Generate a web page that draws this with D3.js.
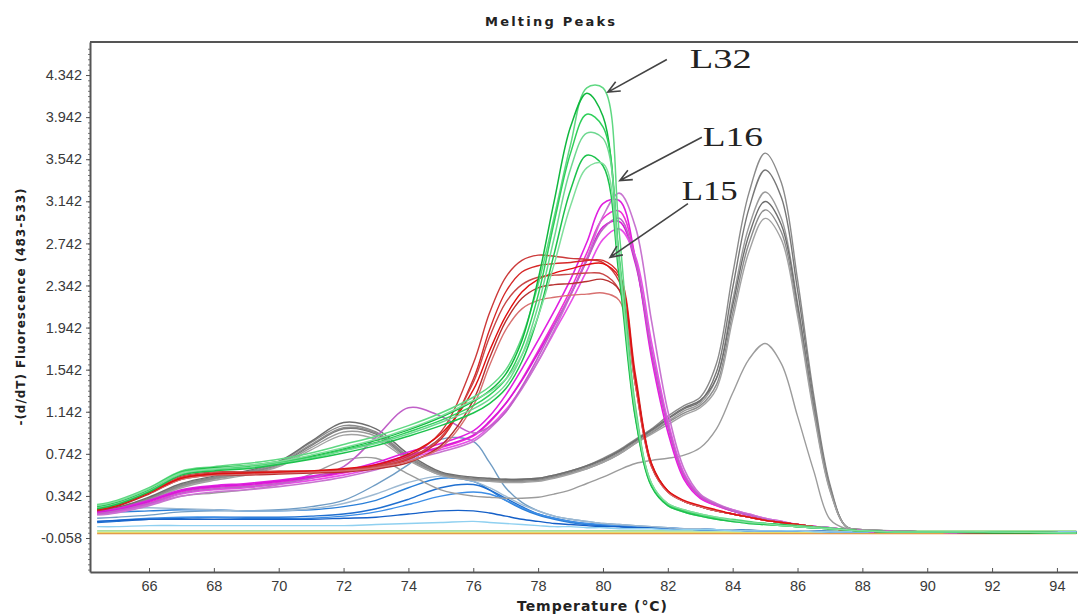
<!DOCTYPE html>
<html>
<head>
<meta charset="utf-8">
<script src="https://cdn.jsdelivr.net/npm/d3@7"></script>
<style>
  body { margin: 0; background: #fff; }
  svg { display: block; }
</style>
</head>
<body>
<div id="container"></div>
<script>
// temperature grid shared by all curves (°C)
const temps = [64.4, 65, 66, 67, 68, 69, 70, 71, 72, 73, 74, 75, 76, 76.5, 77, 77.5, 78, 78.5, 79, 79.5,
    80, 80.5, 81, 81.5, 82, 82.5, 83, 83.5, 84, 84.5, 85, 85.5, 86, 86.5, 87, 87.5, 88, 89, 90, 92, 94.6]

// L32 samples (green)
const greenCurves = [
    [0.26, 0.30, 0.42, 0.58, 0.62, 0.65, 0.69, 0.75, 0.83, 0.91,
     1.01, 1.13, 1.28, 1.38, 1.54, 1.85, 2.35, 3.00, 3.68, 4.22,
     4.22, 2.85, 1.20, 0.46, 0.27, 0.21, 0.17, 0.14, 0.12, 0.10,
     0.08, 0.07, 0.06, 0.05, 0.04, 0.02, 0.01, 0.00, 0.00, 0.00, -0.01],
    [0.24, 0.28, 0.40, 0.57, 0.61, 0.63, 0.67, 0.72, 0.79, 0.87,
     0.97, 1.09, 1.24, 1.34, 1.50, 1.82, 2.40, 3.15, 3.85, 4.17,
     3.95, 2.58, 1.10, 0.44, 0.26, 0.20, 0.16, 0.13, 0.11, 0.09,
     0.08, 0.07, 0.05, 0.04, 0.03, 0.02, 0.01, 0.00, 0.00, -0.01, -0.01],
    [0.25, 0.29, 0.41, 0.57, 0.60, 0.62, 0.66, 0.71, 0.78, 0.85,
     0.95, 1.06, 1.20, 1.30, 1.45, 1.75, 2.25, 2.95, 3.60, 3.97,
     3.85, 2.62, 1.15, 0.45, 0.26, 0.20, 0.16, 0.13, 0.11, 0.09,
     0.08, 0.06, 0.05, 0.04, 0.03, 0.02, 0.01, 0.00, 0.00, 0.00, -0.01],
    [0.23, 0.27, 0.39, 0.55, 0.59, 0.61, 0.65, 0.70, 0.77, 0.84,
     0.93, 1.04, 1.17, 1.26, 1.40, 1.68, 2.15, 2.80, 3.45, 3.79,
     3.74, 2.58, 1.12, 0.44, 0.25, 0.19, 0.15, 0.12, 0.10, 0.08,
     0.07, 0.06, 0.05, 0.04, 0.03, 0.02, 0.01, 0.00, 0.00, 0.00, -0.01],
    [0.22, 0.26, 0.38, 0.54, 0.58, 0.60, 0.64, 0.69, 0.75, 0.82,
     0.91, 1.01, 1.13, 1.22, 1.36, 1.62, 2.05, 2.65, 3.25, 3.58,
     3.48, 2.42, 1.08, 0.43, 0.25, 0.19, 0.15, 0.12, 0.10, 0.08,
     0.07, 0.06, 0.05, 0.04, 0.03, 0.02, 0.01, 0.00, 0.00, 0.00, -0.01],
    [0.25, 0.29, 0.41, 0.56, 0.60, 0.63, 0.67, 0.73, 0.80, 0.88,
     0.98, 1.10, 1.25, 1.33, 1.45, 1.68, 2.05, 2.55, 3.10, 3.46,
     3.50, 2.52, 1.15, 0.46, 0.27, 0.21, 0.17, 0.14, 0.11, 0.09,
     0.08, 0.06, 0.05, 0.04, 0.03, 0.02, 0.01, 0.00, 0.00, 0.00, -0.01]
]

// L16 samples (magenta)
const magentaCurves = [
    [0.20, 0.22, 0.30, 0.40, 0.44, 0.46, 0.49, 0.53, 0.58, 0.66,
     0.76, 0.84, 0.96, 1.10, 1.30, 1.55, 1.82, 2.10, 2.40, 2.75,
     3.12, 3.15, 2.60, 1.65, 0.95, 0.50, 0.32, 0.25, 0.20, 0.16,
     0.12, 0.09, 0.07, 0.05, 0.04, 0.02, 0.01, 0.00, 0.00, -0.01, -0.01],
    [0.18, 0.20, 0.28, 0.38, 0.42, 0.44, 0.47, 0.51, 0.56, 0.63,
     0.72, 0.80, 0.91, 1.04, 1.22, 1.45, 1.72, 2.00, 2.30, 2.65,
     2.98, 3.05, 2.60, 1.70, 1.00, 0.52, 0.33, 0.25, 0.20, 0.16,
     0.12, 0.09, 0.07, 0.05, 0.04, 0.02, 0.01, 0.00, 0.00, -0.01, -0.01],
    [0.19, 0.21, 0.29, 0.39, 0.43, 0.45, 0.48, 0.52, 0.57, 0.64,
     0.73, 0.81, 0.92, 1.05, 1.22, 1.44, 1.70, 1.97, 2.25, 2.58,
     2.90, 2.95, 2.55, 1.72, 1.02, 0.54, 0.34, 0.26, 0.20, 0.16,
     0.12, 0.09, 0.07, 0.05, 0.04, 0.02, 0.01, 0.00, 0.00, -0.01, -0.01],
    [0.17, 0.19, 0.26, 0.36, 0.40, 0.42, 0.45, 0.49, 0.54, 0.61,
     0.70, 0.78, 0.88, 1.00, 1.16, 1.37, 1.62, 1.90, 2.18, 2.48,
     2.78, 2.88, 2.62, 1.80, 1.06, 0.56, 0.35, 0.26, 0.21, 0.17,
     0.13, 0.10, 0.07, 0.05, 0.04, 0.02, 0.01, 0.00, 0.00, -0.01, -0.01],
    [0.16, 0.18, 0.25, 0.34, 0.38, 0.40, 0.43, 0.47, 0.52, 0.59,
     0.68, 0.76, 0.86, 0.98, 1.14, 1.36, 1.62, 1.92, 2.25, 2.60,
     3.00, 3.22, 2.90, 2.00, 1.15, 0.60, 0.36, 0.27, 0.21, 0.17,
     0.13, 0.10, 0.07, 0.05, 0.04, 0.02, 0.01, 0.00, 0.00, -0.01, -0.01],
    [0.17, 0.20, 0.27, 0.37, 0.41, 0.43, 0.46, 0.51, 0.62, 0.90,
     1.18, 1.10, 0.94, 1.00, 1.14, 1.38, 1.66, 1.96, 2.26, 2.58,
     2.88, 2.98, 2.58, 1.72, 1.02, 0.54, 0.34, 0.26, 0.20, 0.16,
     0.12, 0.09, 0.07, 0.05, 0.04, 0.02, 0.01, 0.00, 0.00, -0.01, -0.01]
]

// L15 samples (red)
const redCurves = [
    [0.22, 0.26, 0.38, 0.52, 0.56, 0.56, 0.57, 0.58, 0.59, 0.63,
     0.72, 0.95, 1.60, 2.08, 2.42, 2.58, 2.63, 2.62, 2.60, 2.59,
     2.56, 2.38, 1.40, 0.62, 0.38, 0.29, 0.24, 0.20, 0.17, 0.14,
     0.11, 0.09, 0.07, 0.05, 0.03, 0.02, 0.01, 0.00, 0.00, -0.01, -0.01],
    [0.21, 0.25, 0.37, 0.51, 0.55, 0.55, 0.56, 0.57, 0.58, 0.61,
     0.69, 0.88, 1.45, 1.92, 2.28, 2.47, 2.53, 2.55, 2.56, 2.58,
     2.58, 2.45, 1.50, 0.65, 0.39, 0.29, 0.24, 0.20, 0.17, 0.14,
     0.11, 0.09, 0.07, 0.05, 0.03, 0.02, 0.01, 0.00, 0.00, -0.01, -0.01],
    [0.23, 0.27, 0.39, 0.53, 0.57, 0.57, 0.58, 0.58, 0.59, 0.62,
     0.70, 0.90, 1.42, 1.85, 2.18, 2.35, 2.42, 2.44, 2.45, 2.46,
     2.45, 2.30, 1.40, 0.62, 0.38, 0.29, 0.24, 0.20, 0.17, 0.14,
     0.11, 0.09, 0.07, 0.05, 0.03, 0.02, 0.01, 0.00, 0.00, -0.01, -0.01],
    [0.20, 0.24, 0.36, 0.50, 0.54, 0.54, 0.55, 0.56, 0.57, 0.60,
     0.66, 0.82, 1.25, 1.65, 2.00, 2.22, 2.32, 2.35, 2.36, 2.38,
     2.40, 2.30, 1.45, 0.64, 0.39, 0.29, 0.24, 0.20, 0.17, 0.14,
     0.11, 0.09, 0.07, 0.05, 0.03, 0.02, 0.01, 0.00, 0.00, -0.01, -0.01],
    [0.22, 0.26, 0.37, 0.50, 0.54, 0.55, 0.56, 0.57, 0.58, 0.61,
     0.67, 0.80, 1.20, 1.58, 1.92, 2.12, 2.20, 2.23, 2.25, 2.26,
     2.27, 2.20, 1.40, 0.63, 0.38, 0.29, 0.24, 0.20, 0.17, 0.14,
     0.11, 0.09, 0.07, 0.05, 0.03, 0.02, 0.01, 0.00, 0.00, -0.01, -0.01],
    [0.21, 0.25, 0.37, 0.51, 0.55, 0.56, 0.57, 0.58, 0.60, 0.64,
     0.74, 0.93, 1.35, 1.72, 2.05, 2.28, 2.40, 2.46, 2.50, 2.54,
     2.55, 2.42, 1.45, 0.64, 0.39, 0.30, 0.25, 0.21, 0.17, 0.14,
     0.11, 0.09, 0.07, 0.05, 0.03, 0.02, 0.01, 0.00, 0.00, -0.01, -0.01]
]

// gray samples (85 °C peak)
const grayCurves = [
    [0.21, 0.23, 0.32, 0.45, 0.52, 0.57, 0.66, 0.85, 1.01, 0.95,
     0.72, 0.56, 0.51, 0.50, 0.50, 0.50, 0.51, 0.54, 0.58, 0.63,
     0.70, 0.78, 0.88, 0.98, 1.10, 1.20, 1.28, 1.60, 2.45, 3.22,
     3.60, 3.32, 2.40, 1.30, 0.45, 0.05, 0.02, 0.01, 0.00, 0.00, -0.01],
    [0.20, 0.22, 0.31, 0.44, 0.51, 0.56, 0.64, 0.82, 0.98, 0.93,
     0.70, 0.55, 0.50, 0.49, 0.49, 0.49, 0.50, 0.53, 0.57, 0.62,
     0.68, 0.76, 0.86, 0.96, 1.07, 1.17, 1.24, 1.52, 2.32, 3.07,
     3.44, 3.18, 2.30, 1.25, 0.43, 0.05, 0.02, 0.01, 0.00, 0.00, -0.01],
    [0.19, 0.21, 0.30, 0.43, 0.50, 0.55, 0.63, 0.80, 0.95, 0.91,
     0.69, 0.54, 0.50, 0.49, 0.48, 0.48, 0.49, 0.52, 0.56, 0.61,
     0.67, 0.75, 0.85, 0.95, 1.05, 1.15, 1.22, 1.46, 2.20, 2.90,
     3.23, 2.98, 2.18, 1.20, 0.42, 0.05, 0.02, 0.01, 0.00, 0.00, -0.01],
    [0.21, 0.23, 0.33, 0.46, 0.53, 0.58, 0.67, 0.86, 1.04, 0.98,
     0.74, 0.57, 0.52, 0.51, 0.50, 0.50, 0.51, 0.54, 0.58, 0.63,
     0.69, 0.77, 0.87, 0.97, 1.08, 1.18, 1.25, 1.46, 2.15, 2.82,
     3.14, 2.92, 2.15, 1.18, 0.41, 0.05, 0.02, 0.01, 0.00, 0.00, -0.01],
    [0.20, 0.22, 0.31, 0.44, 0.51, 0.56, 0.65, 0.83, 0.99, 0.94,
     0.71, 0.55, 0.50, 0.49, 0.48, 0.48, 0.49, 0.52, 0.56, 0.60,
     0.66, 0.74, 0.84, 0.94, 1.04, 1.13, 1.20, 1.40, 2.08, 2.74,
     3.06, 2.85, 2.10, 1.16, 0.40, 0.05, 0.02, 0.01, 0.00, 0.00, -0.01],
    [0.19, 0.21, 0.30, 0.42, 0.49, 0.54, 0.62, 0.78, 0.92, 0.88,
     0.68, 0.54, 0.49, 0.48, 0.47, 0.47, 0.48, 0.51, 0.55, 0.60,
     0.66, 0.74, 0.84, 0.93, 1.02, 1.11, 1.18, 1.36, 2.02, 2.66,
     2.98, 2.78, 2.05, 1.13, 0.39, 0.05, 0.02, 0.01, 0.00, 0.00, -0.01],
    [0.17, 0.19, 0.26, 0.34, 0.37, 0.40, 0.45, 0.55, 0.68, 0.70,
     0.55, 0.40, 0.34, 0.33, 0.32, 0.32, 0.33, 0.36, 0.40, 0.46,
     0.52, 0.59, 0.65, 0.68, 0.70, 0.73, 0.80, 0.98, 1.32, 1.64,
     1.79, 1.60, 1.10, 0.58, 0.12, 0.03, 0.02, 0.01, 0.00, 0.00, -0.01]
]

// blue samples (75-76 °C bumps)
const blueCurves = [
    [0.13, 0.14, 0.16, 0.19, 0.20, 0.20, 0.21, 0.24, 0.30, 0.45,
     0.64, 0.88, 0.86, 0.66, 0.42, 0.28, 0.20, 0.15, 0.12, 0.10,
     0.08, 0.07, 0.06, 0.05, 0.04, 0.03, 0.03, 0.02, 0.02, 0.02,
     0.01, 0.01, 0.01, 0.01, 0.01, 0.00, 0.00, 0.00, 0.00, 0.00, 0.00],
    [0.18, 0.19, 0.20, 0.21, 0.21, 0.20, 0.20, 0.21, 0.24, 0.30,
     0.42, 0.51, 0.48, 0.40, 0.30, 0.22, 0.16, 0.12, 0.09, 0.07,
     0.06, 0.05, 0.04, 0.04, 0.03, 0.03, 0.02, 0.02, 0.02, 0.01,
     0.01, 0.01, 0.01, 0.01, 0.00, 0.00, 0.00, 0.00, 0.00, 0.00, 0.00],
    [0.09, 0.10, 0.12, 0.13, 0.14, 0.14, 0.14, 0.15, 0.17, 0.22,
     0.31, 0.42, 0.45, 0.40, 0.32, 0.24, 0.17, 0.13, 0.10, 0.08,
     0.06, 0.05, 0.04, 0.04, 0.03, 0.03, 0.02, 0.02, 0.02, 0.01,
     0.01, 0.01, 0.01, 0.01, 0.00, 0.00, 0.00, 0.00, 0.00, 0.00, 0.00],
    [0.10, 0.11, 0.13, 0.14, 0.14, 0.13, 0.13, 0.13, 0.15, 0.19,
     0.26, 0.34, 0.38, 0.36, 0.30, 0.23, 0.17, 0.13, 0.10, 0.08,
     0.07, 0.06, 0.05, 0.04, 0.04, 0.03, 0.03, 0.02, 0.02, 0.01,
     0.01, 0.01, 0.01, 0.01, 0.00, 0.00, 0.00, 0.00, 0.00, 0.00, 0.00],
    [0.10, 0.11, 0.12, 0.12, 0.12, 0.12, 0.12, 0.12, 0.13, 0.14,
     0.17, 0.20, 0.20, 0.18, 0.15, 0.12, 0.10, 0.08, 0.07, 0.06,
     0.05, 0.05, 0.04, 0.04, 0.03, 0.03, 0.02, 0.02, 0.02, 0.01,
     0.01, 0.01, 0.01, 0.01, 0.00, 0.00, 0.00, 0.00, 0.00, 0.00, 0.00],
    [0.21, 0.22, 0.23, 0.22, 0.21, 0.20, 0.20, 0.22, 0.27, 0.36,
     0.47, 0.53, 0.48, 0.42, 0.34, 0.26, 0.20, 0.15, 0.12, 0.10,
     0.08, 0.07, 0.06, 0.05, 0.04, 0.03, 0.03, 0.02, 0.02, 0.01,
     0.01, 0.01, 0.01, 0.01, 0.00, 0.00, 0.00, 0.00, 0.00, 0.00, 0.00],
    [0.05, 0.05, 0.06, 0.06, 0.06, 0.06, 0.06, 0.06, 0.06, 0.07,
     0.08, 0.09, 0.10, 0.09, 0.08, 0.07, 0.06, 0.05, 0.05, 0.04,
     0.04, 0.03, 0.03, 0.03, 0.02, 0.02, 0.02, 0.02, 0.01, 0.01,
     0.01, 0.01, 0.01, 0.00, 0.00, 0.00, 0.00, 0.00, 0.00, 0.00, 0.00]
]

// blank / baseline wells
const flatCurves = [
    [-0.015, -0.015, -0.015, -0.015, -0.015, -0.015, -0.015, -0.015, -0.015, -0.015,
     -0.015, -0.015, -0.015, -0.015, -0.015, -0.015, -0.015, -0.015, -0.015, -0.015,
     -0.015, -0.015, -0.015, -0.015, -0.015, -0.015, -0.015, -0.015, -0.015, -0.015,
     -0.015, -0.015, -0.015, -0.015, -0.015, -0.015, -0.015, -0.015, -0.015, -0.015, -0.015],
    [-0.005, -0.005, -0.005, -0.005, -0.005, -0.005, -0.005, -0.005, -0.005, -0.005,
     -0.005, -0.005, -0.005, -0.005, -0.005, -0.005, -0.005, -0.005, -0.005, -0.005,
     -0.005, -0.005, -0.005, -0.005, -0.005, -0.005, -0.005, -0.005, -0.005, -0.005,
     -0.005, -0.005, -0.005, -0.005, -0.005, -0.005, -0.005, -0.005, -0.005, -0.005, -0.005],
    [0.01, 0.01, 0.01, 0.01, 0.01, 0.01, 0.01, 0.01, 0.01, 0.01,
     0.01, 0.01, 0.01, 0.01, 0.01, 0.01, 0.01, 0.01, 0.01, 0.01,
     0.01, 0.01, 0.01, 0.01, 0.01, 0.01, 0.01, 0.01, 0.01, 0.01,
     0.01, 0.01, 0.01, 0.01, 0.01, 0.01, 0.01, 0.01, 0.01, 0.01, 0.01]
]

const yTicks = [4.342, 3.942, 3.542, 3.142, 2.742, 2.342, 1.942, 1.542, 1.142, 0.742, 0.342, -0.058]
const xTicks = [66, 68, 70, 72, 74, 76, 78, 80, 82, 84, 86, 88, 90, 92, 94]


const addChart = () => {
    const width = 1078
    const height = 615
    const margin = { top: 42, right: 0, bottom: 43, left: 90 }

    const svg = d3.select('#container')
        .append('svg')
        .attr('width', width)
        .attr('height', height)

    const xScale = d3.scaleLinear()
        .domain([64.18, 94.65])
        .range([margin.left, width - margin.right])
    const yScale = d3.scaleLinear()
        .domain([-0.381, 4.656])
        .range([height - margin.bottom, margin.top])

    svg.append('clipPath')
        .attr('id', 'plot-clip')
        .append('rect')
        .attr('x', margin.left + 1)
        .attr('y', margin.top + 1)
        .attr('width', width - margin.left - margin.right - 1)
        .attr('height', height - margin.top - margin.bottom - 2)

    const line = d3.line()
        .x((d, i) => xScale(temps[i]))
        .y(d => yScale(d))
        .curve(d3.curveCatmullRom.alpha(0.5))

    // draw order: blanks under, green on top
    const groups = [
        { curves: flatCurves, colors: ['#e0883c', '#e6dc6e', '#a8e0a0'], sw: 1.6 },
        { curves: blueCurves, colors: ['#6f9cc4', '#2a7fd8', '#1f6fd0', '#3d8ee6', '#1560c8', '#9db9d2', '#8fd0f0'], sw: 1.4 },
        { curves: grayCurves, colors: ['#8a8a8a', '#777777', '#9a9a9a', '#6e6e6e', '#8c8c8c', '#a2a2a2', '#9c9c9c'], sw: 1.4 },
        { curves: magentaCurves, colors: ['#e020e0', '#f030d8', '#d818d8', '#e850e8', '#c874d0', '#c060c8'], sw: 1.6 },
        { curves: redCurves, colors: ['#cc3a3a', '#d62828', '#c84646', '#b83030', '#d87070', '#e01010'], sw: 1.4 },
        { curves: greenCurves, colors: ['#5fd882', '#10b83e', '#2fcf5a', '#6ed890', '#1cc24c', '#80df9c'], sw: 1.5 }
    ]

    const plot = svg.append('g').attr('clip-path', 'url(#plot-clip)')

    groups.forEach(group => {
        plot.append('g')
            .selectAll('path')
            .data(group.curves)
            .join('path')
            .attr('d', line)
            .attr('fill', 'none')
            .attr('stroke', (d, i) => group.colors[i % group.colors.length])
            .attr('stroke-width', group.sw)
            .attr('stroke-linejoin', 'round')
    })

    // axes
    const axisColor = '#555'

    svg.append('g')
        .attr('transform', `translate(${margin.left}, 0)`)
        .call(d3.axisLeft(yScale).tickValues(d3.range(-0.358, 4.6, 0.05)).tickSize(2).tickFormat(''))
        .call(g => g.select('.domain').remove())
        .call(g => g.selectAll('line').attr('stroke', '#777'))

    const yAxis = svg.append('g')
        .attr('id', 'y-axis')
        .attr('transform', `translate(${margin.left}, 0)`)
        .call(d3.axisLeft(yScale).tickValues(yTicks).tickFormat(d => d.toFixed(3)).tickSize(4).tickSizeOuter(0).tickPadding(4))
    yAxis.select('.domain').attr('stroke', axisColor).attr('stroke-width', 2)
    yAxis.selectAll('line').attr('stroke', axisColor)
    yAxis.selectAll('text')
        .attr('font-family', 'Liberation Sans, Arial, sans-serif')
        .attr('font-size', 14.5)
        .attr('fill', '#3a3a3a')

    const xAxis = svg.append('g')
        .attr('id', 'x-axis')
        .attr('transform', `translate(0, ${height - margin.bottom})`)
        .call(d3.axisBottom(xScale).tickValues(xTicks).tickSizeInner(-4).tickSizeOuter(0).tickPadding(9))
    xAxis.select('.domain').attr('stroke', axisColor).attr('stroke-width', 2)
    xAxis.selectAll('line').attr('stroke', axisColor)
    xAxis.selectAll('text')
        .attr('font-family', 'Liberation Sans, Arial, sans-serif')
        .attr('font-size', 14.5)
        .attr('fill', '#3a3a3a')

    // top frame line
    svg.append('line')
        .attr('x1', margin.left).attr('x2', width)
        .attr('y1', margin.top).attr('y2', margin.top)
        .attr('stroke', axisColor)
        .attr('stroke-width', 2)

    // titles
    svg.append('text')
        .text('Melting Peaks')
        .attr('x', 550).attr('y', 26)
        .attr('text-anchor', 'middle')
        .attr('font-family', 'DejaVu Sans, sans-serif')
        .attr('font-weight', 'bold')
        .attr('font-size', 13)
        .attr('textLength', 130)
        .attr('fill', '#222')

    svg.append('text')
        .text('Temperature (°C)')
        .attr('x', 592).attr('y', 611)
        .attr('text-anchor', 'middle')
        .attr('font-family', 'DejaVu Sans, sans-serif')
        .attr('font-weight', 'bold')
        .attr('font-size', 14)
        .attr('textLength', 150)
        .attr('fill', '#222')

    svg.append('text')
        .text('-(d/dT) Fluorescence (483-533)')
        .attr('transform', 'translate(21, 307) rotate(-90)')
        .attr('text-anchor', 'middle')
        .attr('dy', '0.35em')
        .attr('font-family', 'DejaVu Sans, sans-serif')
        .attr('font-weight', 'bold')
        .attr('font-size', 12)
        .attr('textLength', 237)
        .attr('fill', '#222')

    // L32 / L16 / L15 callouts
    const callouts = [
        { label: 'L32', tx: 82.68, ty: 4.41, len: 62, from: [81.97, 4.49], to: [80.15, 4.18] },
        { label: 'L16', tx: 83.08, ty: 3.67, len: 60, from: [83.05, 3.75], to: [80.52, 3.34] },
        { label: 'L15', tx: 82.43, ty: 3.15, len: 56, from: [82.62, 3.12], to: [80.22, 2.61] }
    ]
    const notes = svg.append('g')
    callouts.forEach(c => {
        const x1 = xScale(c.from[0]), y1 = yScale(c.from[1])
        const x2 = xScale(c.to[0]), y2 = yScale(c.to[1])
        const a = Math.atan2(y1 - y2, x1 - x2)
        const h = 13, spread = 0.42
        notes.append('path')
            .attr('d', `M${x1},${y1}L${x2},${y2}` +
                `M${x2 + h * Math.cos(a + spread)},${y2 + h * Math.sin(a + spread)}L${x2},${y2}` +
                `L${x2 + h * Math.cos(a - spread)},${y2 + h * Math.sin(a - spread)}`)
            .attr('fill', 'none')
            .attr('stroke', '#444')
            .attr('stroke-width', 1.6)
        notes.append('text')
            .text(c.label)
            .attr('x', xScale(c.tx))
            .attr('y', yScale(c.ty))
            .attr('font-family', 'Liberation Serif, Times New Roman, serif')
            .attr('font-size', 27)
            .attr('textLength', c.len)
            .attr('lengthAdjust', 'spacingAndGlyphs')
            .attr('fill', '#222')
    })
}

addChart()
</script>
</body>
</html>
